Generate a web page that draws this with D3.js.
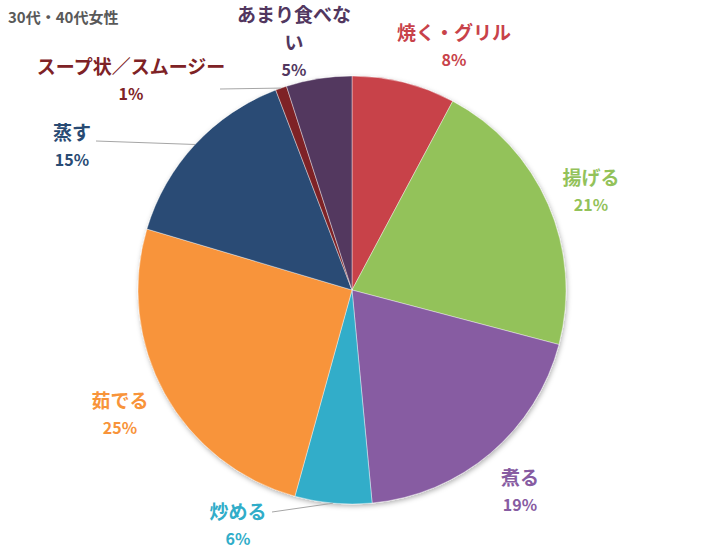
<!DOCTYPE html>
<html>
<head>
<meta charset="utf-8">
<script src="https://cdn.jsdelivr.net/npm/d3@7"></script>
<style>
  body { margin: 0; background: #fff; }
  text { font-family: "Noto Sans CJK JP", "Noto Sans", sans-serif; font-weight: bold; }
</style>
</head>
<body>
<svg id="chart" width="706" height="549"></svg>
<script>
const categories = ["焼く・グリル", "揚げる", "煮る", "炒める", "茹でる", "蒸す", "スープ状／スムージー", "あまり食べない"];
// shares; the printed labels are rounded
const values = [7.8, 21.3, 19.4, 5.8, 25.3, 14.6, 0.85, 4.95];
const percentLabels = ["8%", "21%", "19%", "6%", "25%", "15%", "1%", "5%"];
const colours = ["#C8424A", "#93C25A", "#875CA2", "#31ADC9", "#F8943A", "#294B74", "#7E2226", "#52375F"];
const labelLines = [["焼く・グリル"], ["揚げる"], ["煮る"], ["炒める"], ["茹でる"], ["蒸す"], ["スープ状／スムージー"], ["あまり食べな", "い"]];

// label layout: centre of first text line, relative to pie centre
const labelPos = [[102, -257], [239, -112], [168, 188], [-114, 222], [-232, 111], [-280, -157], [-221, -223], [-58, -275]];
// where leader lines leave the label, relative to the label centre (null = no leader)
const leaderFrom = [null, null, null, [34, 0], null, [24, 8], [89, 22], null];

const svg = d3.select("#chart");
const cx = 352, cy = 290, radius = 214;

const defs = svg.append("defs");
defs.append("filter").attr("id", "shadow")
  .attr("x", "-10%").attr("y", "-10%").attr("width", "120%").attr("height", "120%")
  .append("feDropShadow")
  .attr("dx", 1).attr("dy", 2).attr("stdDeviation", 2.5)
  .attr("flood-color", "#000").attr("flood-opacity", 0.3);

svg.append("text")
  .attr("x", 8).attr("y", 23)
  .attr("font-size", 15).attr("fill", "#595959")
  .text("30代・40代女性");

const pie = d3.pie().sort(null).value(d => d)(values);
const arc = d3.arc().innerRadius(0).outerRadius(radius);

const g = svg.append("g").attr("transform", `translate(${cx}, ${cy})`);

g.append("g").attr("filter", "url(#shadow)")
  .selectAll("path")
  .data(pie)
  .join("path")
  .attr("d", arc)
  .attr("fill", (d, i) => colours[i])
  .attr("stroke", "#fff")
  .attr("stroke-width", 0.4);

const edge = d3.arc().innerRadius(radius).outerRadius(radius);

pie.forEach((d, i) => {
  const [lx, ly] = labelPos[i];
  const lines = labelLines[i];
  const lineH = 28;

  if (leaderFrom[i]) {
    const [ax, ay] = edge.centroid(d);
    const sx = lx + leaderFrom[i][0], sy = ly + leaderFrom[i][1];
    g.append("path")
      .attr("d", `M${sx},${sy}L${ax},${ay}`)
      .attr("stroke", "#A6A6A6").attr("stroke-width", 1).attr("fill", "none");
  }

  const t = g.append("text")
    .attr("text-anchor", "middle")
    .attr("fill", colours[i]);
  lines.forEach((s, k) => {
    t.append("tspan").attr("x", lx).attr("y", ly + k * lineH + 7)
      .attr("font-size", 19).text(s);
  });
  t.append("tspan").attr("x", lx).attr("y", ly + lines.length * lineH + 5)
    .attr("font-size", 16).text(percentLabels[i]);
});
</script>
</body>
</html>
